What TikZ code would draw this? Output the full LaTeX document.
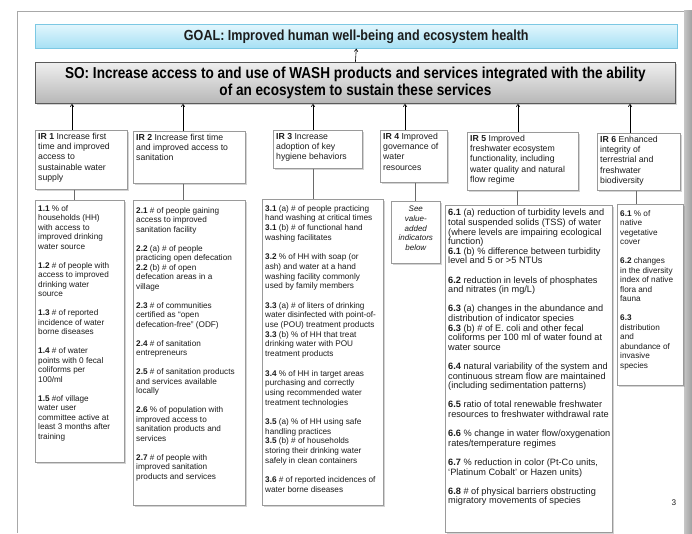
\documentclass[tikz,border=0pt]{standalone}
\usepackage{fontspec}
\setmainfont{Liberation Sans}
\newfontfamily\titlefont[FakeStretch=0.86]{Liberation Sans}
\usetikzlibrary{arrows.meta,shadows}
\definecolor{txtcol}{HTML}{1C1C1C}
\definecolor{boxgray}{HTML}{9A9A9A}
\definecolor{goaltop}{HTML}{E2F6FD}
\definecolor{goalbot}{HTML}{A6E0F4}
\definecolor{goalline}{HTML}{7CC8E3}
\definecolor{sotop}{HTML}{EFEFEF}
\definecolor{sobot}{HTML}{B7B7B7}
\definecolor{soline}{HTML}{5A5A5A}
\definecolor{linkgray}{HTML}{6A6A6A}
\definecolor{framegray}{HTML}{A8A8A8}
\tikzset{
  box/.style={draw=boxgray, fill=white, line width=0.6pt, inner sep=0pt, anchor=north west,
    drop shadow={shadow xshift=1.2pt, shadow yshift=-1.2pt, opacity=0.35}},
  txt/.style={anchor=north west, inner sep=0pt, align=left, text=txtcol,
    font=\fontsize{8.2}{9.5}\selectfont},
  bigtxt/.style={txt, font=\fontsize{9.2}{9.6}\selectfont},
  hdr/.style={anchor=north west, inner sep=0pt, align=left, text=txtcol,
    font=\fontsize{8.7}{10.2}\selectfont},
  arr/.style={draw=black, line width=0.6pt, -{Straight Barb[length=2.5pt,width=3.5pt]}},
  link/.style={draw=linkgray, line width=1pt},
}
\begin{document}
\begin{tikzpicture}[x=1pt,y=-1pt]
\useasboundingbox (0,0) rectangle (692,533);
% outer frame
\draw[framegray, line width=0.8pt] (17,11) -- (684,11);
\draw[framegray, line width=0.8pt] (17,11) -- (17,533);
\fill[left color=gray!45, right color=gray!75] (684,10) rectangle (692,533);

% goal and SO
\node[draw=goalline, top color=goaltop, bottom color=goalbot, line width=0.6pt, anchor=north west,
  minimum width=642pt, minimum height=24pt, inner sep=0pt, text=txtcol,
  font=\titlefont\bfseries\fontsize{14.6}{16}\selectfont,
  drop shadow={shadow xshift=1pt, shadow yshift=-1pt, opacity=0.3}] (goal) at (35,24)
  {GOAL: Improved human well-being and ecosystem health};
\node[draw=soline, top color=sotop, bottom color=sobot, line width=0.8pt, anchor=north west,
  minimum width=640pt, minimum height=41pt, inner sep=0pt, align=center, text=black,
  font=\titlefont\bfseries\fontsize{15.8}{17}\selectfont,
  drop shadow={shadow xshift=1.2pt, shadow yshift=-1.2pt, opacity=0.35}] (so) at (35,62)
  {SO: Increase access to and use of WASH products and services integrated with the ability\\
   of an ecosystem to sustain these services};
\draw[arr] (so.north) -- (goal.south);

% IR boxes
\node[box, minimum width=92pt, minimum height=59pt] (ir1) at (35,130) {};
\node[box, minimum width=112pt, minimum height=52pt] (ir2) at (133,131) {};
\node[box, minimum width=89pt, minimum height=38pt] (ir3) at (273,130) {};
\node[box, minimum width=67pt, minimum height=52pt] (ir4) at (380,130) {};
\node[box, minimum width=111pt, minimum height=58pt] (ir5) at (467,132) {};
\node[box, minimum width=83pt, minimum height=57pt] (ir6) at (597,133) {};

\node[hdr] (ir1t) at ([shift={(3,3)}]ir1.north west) {\textbf{IR 1} Increase first\\time and improved\\access to\\sustainable water\\supply};
\node[hdr] (ir2t) at ([shift={(3,3)}]ir2.north west) {\textbf{IR 2} Increase first time\\and improved access to\\sanitation};
\node[hdr] (ir3t) at ([shift={(3,3)}]ir3.north west) {\textbf{IR 3} Increase\\adoption of key\\hygiene behaviors};
\node[hdr] (ir4t) at ([shift={(3,3)}]ir4.north west) {\textbf{IR 4} Improved\\governance of\\water\\resources};
\node[hdr] (ir5t) at ([shift={(3,3)}]ir5.north west) {\textbf{IR 5} Improved\\freshwater ecosystem\\functionality, including\\water quality and natural\\flow regime};
\node[hdr] (ir6t) at ([shift={(3,3)}]ir6.north west) {\textbf{IR 6} Enhanced\\integrity of\\terrestrial and\\freshwater\\biodiversity};

% indicator boxes
\node[box, minimum width=89pt, minimum height=262pt] (in1) at (35,200) {};
\node[box, minimum width=112pt, minimum height=305pt] (in2) at (133,200) {};
\node[box, minimum width=121pt, minimum height=306pt] (in3) at (262,199) {};
\node[box, minimum width=49pt, minimum height=62pt] (in4) at (391,201) {};
\node[box, minimum width=167pt, minimum height=327pt] (in5) at (445,205) {};
\node[box, minimum width=66pt, minimum height=181pt] (in6) at (617,204) {};

\node[txt] (in1t) at ([shift={(3,5)}]in1.north west) {%
\textbf{1.1} \% of\\households (HH)\\with access to\\improved drinking\\water source\\[9.5pt]
\textbf{1.2} \# of people with\\access to improved\\drinking water\\source\\[9.5pt]
\textbf{1.3} \# of reported\\incidence of water\\borne diseases\\[9.5pt]
\textbf{1.4} \# of water\\points with 0 fecal\\coliforms per\\100/ml\\[9.5pt]
\textbf{1.5} \#of village\\water user\\committee active at\\least 3 months after\\training};

\node[txt] (in2t) at ([shift={(3,7)}]in2.north west) {%
\textbf{2.1} \# of people gaining\\access to improved\\sanitation facility\\[9.5pt]
\textbf{2.2} (a) \# of people\\practicing open defecation\\\textbf{2.2} (b) \# of open\\defecation areas in a\\village\\[9.5pt]
\textbf{2.3} \# of communities\\certified as ``open\\defecation-free'' (ODF)\\[9.5pt]
\textbf{2.4} \# of sanitation\\entrepreneurs\\[9.5pt]
\textbf{2.5} \# of sanitation products\\and services available\\locally\\[9.5pt]
\textbf{2.6} \% of population with\\improved access to\\sanitation products and\\services\\[9.5pt]
\textbf{2.7} \# of people with\\improved sanitation\\products and services};

\node[txt, font=\fontsize{8.2}{9.7}\selectfont] (in3t) at ([shift={(3,6)}]in3.north west) {%
\textbf{3.1} (a) \# of people practicing\\hand washing at critical times\\\textbf{3.1} (b) \# of functional hand\\washing facilitates\\[9.7pt]
\textbf{3.2} \% of HH with soap (or\\ash) and water at a hand\\washing facility commonly\\used by family members\\[9.7pt]
\textbf{3.3} (a) \# of liters of drinking\\water disinfected with point-of-\\use (POU) treatment products\\\textbf{3.3} (b) \% of HH that treat\\drinking water with POU\\treatment products\\[9.7pt]
\textbf{3.4} \% of HH in target areas\\purchasing and correctly\\using recommended water\\treatment technologies\\[9.7pt]
\textbf{3.5} (a) \% of HH using safe\\handling practices\\\textbf{3.5} (b) \# of households\\storing their drinking water\\safely in clean containers\\[9.7pt]
\textbf{3.6} \# of reported incidences of\\water borne diseases};

\node[txt, anchor=north, align=center, font=\itshape\fontsize{8}{9.7}\selectfont] (in4t) at ([shift={(0,5)}]in4.north) {See\\value-\\added\\indicators\\below};

\node[bigtxt] (in5t) at ([shift={(3,4)}]in5.north west) {%
\textbf{6.1} (a) reduction of turbidity levels and\\total suspended solids (TSS) of water\\(where levels are impairing ecological\\function)\\
\textbf{6.1} (b) \% difference between turbidity\\level and 5 or >5 NTUs\\[9.6pt]
\textbf{6.2} reduction in levels of phosphates\\and nitrates (in mg/L)\\[9.6pt]
\textbf{6.3} (a) changes in the abundance and\\distribution of indicator species\\\textbf{6.3} (b) \# of E. coli and other fecal\\coliforms per 100 ml of water found at\\water source\\[9.6pt]
\textbf{6.4} natural variability of the system and\\continuous stream flow are maintained\\(including sedimentation patterns)\\[9.6pt]
\textbf{6.5} ratio of total renewable freshwater\\resources to freshwater withdrawal rate\\[9.6pt]
\textbf{6.6} \% change in water flow/oxygenation\\rates/temperature regimes\\[9.6pt]
\textbf{6.7} \% reduction in color (Pt-Co units,\\`Platinum Cobalt' or Hazen units)\\[9.6pt]
\textbf{6.8} \# of physical barriers obstructing\\migratory movements of species};

\node[txt] (in6t) at ([shift={(3,6)}]in6.north west) {%
\textbf{6.1} \% of\\native\\vegetative\\cover\\[9.5pt]
\textbf{6.2} changes\\in the diversity\\index of native\\flora and\\fauna\\[9.5pt]
\textbf{6.3}\\distribution\\and\\abundance of\\invasive\\species};

% page number
\node[txt, anchor=center] (pg) at (674,503) {3};

% arrows IR -> SO
\coordinate (ax1) at (72,0);
\coordinate (ax2) at (183,0);
\coordinate (ax3) at (313,0);
\coordinate (ax4) at (405,0);
\coordinate (ax5) at (518,0);
\coordinate (ax6) at (630,0);
\draw[arr] (ir1.north -| ax1) -- (so.south -| ax1);
\draw[arr] (ir2.north -| ax2) -- (so.south -| ax2);
\draw[arr] (ir3.north -| ax3) -- (so.south -| ax3);
\draw[arr] (ir4.north -| ax4) -- (so.south -| ax4);
\draw[arr] (ir5.north -| ax5) -- (so.south -| ax5);
\draw[arr] (ir6.north -| ax6) -- (so.south -| ax6);

% links IR -> indicators
\coordinate (lx1) at (74,0);
\coordinate (lx2) at (183,0);
\coordinate (lx3) at (313,0);
\coordinate (lx4) at (415,0);
\coordinate (lx5) at (517,0);
\coordinate (lx6) at (636,0);
\draw[link] (ir1.south -| lx1) -- (in1.north -| lx1);
\draw[link] (ir2.south -| lx2) -- (in2.north -| lx2);
\draw[link] (ir3.south -| lx3) -- (in3.north -| lx3);
\draw[link] (ir4.south -| lx4) -- (in4.north -| lx4);
\draw[link] (ir5.south -| lx5) -- (in5.north -| lx5);
\draw[link] (ir6.south -| lx6) -- (in6.north -| lx6);
\end{tikzpicture}
\end{document}
